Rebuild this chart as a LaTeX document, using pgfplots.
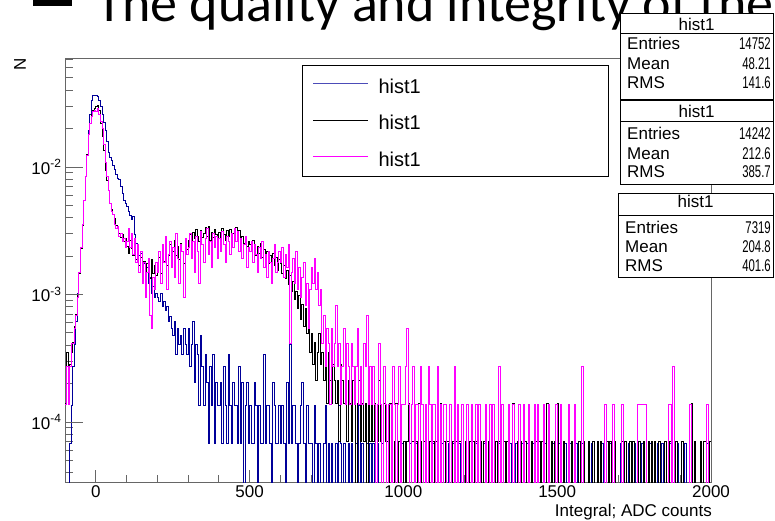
\documentclass[border=0pt]{standalone}
\usepackage{pgfplots}
\pgfplotsset{compat=1.18}
\usepackage{pgfplotstable}
\usepackage{graphicx}
\usepackage{fontspec}
\setmainfont{Liberation Sans}
\newfontfamily\titlefont{Carlito}
\definecolor{rootblue}{RGB}{0,0,153}
\definecolor{rootmag}{RGB}{255,0,255}
\colorlet{framegray}{black!60}

% bin low edge, counts: b = blue (N=14752), k = black (N=14242), m = magenta (N=7319)
\pgfplotstableread{
x b k m
-100 0 2 1
-95 0 5 2
-90 0 3 1
-85 1 4 2
-80 2 5 3
-75 4 6 3
-70 6 8 4
-65 9 10 5
-60 15 14 7
-55 22 21 11
-50 34 33 17
-45 52 50 26
-40 81 78 40
-35 125 121 62
-30 184 178 91
-25 288 256 132
-20 384 313 161
-15 487 370 183
-10 541 399 198
-5 541 413 205
0 541 427 198
5 531 434 212
10 494 399 190
15 438 313 168
20 384 249 146
25 333 192 110
30 288 135 80
35 236 111 62
40 192 94 48
45 177 74 38
50 167 66 33
55 152 60 31
60 140 56 26
65 130 50 24
70 121 47 25
75 117 43 21
80 103 40 22
85 91 42 19
90 81 37 20
95 77 39 17
100 72 34 19
105 66 30 24
110 61 38 17
115 57 33 22
120 60 29 15
125 44 35 20
130 37 27 13
135 35 31 18
140 30 24 11
145 31 28 16
150 25 21 9
155 26 26 13
160 22 16 7
165 24 25 11
170 18 22 14
175 20 19 5
180 15 27 4
185 17 21 10
190 14 24 8
195 15 20 13
200 14 23 11
205 13 28 16
210 15 21 9
215 12 30 18
220 13 26 13
225 11 33 21
230 12 24 8
235 9 29 15
240 10 35 19
245 8 27 12
250 7 31 17
255 9 38 10
260 5 29 22
265 8 34 14
270 6 27 9
275 7 36 18
280 5 31 16
285 8 25 7
290 6 37 20
295 5 32 15
300 8 38 17
305 4 42 22
310 6 35 14
315 9 44 19
320 3 39 11
325 6 46 21
330 5 41 16
335 2 37 9
340 7 45 23
345 4 40 18
350 2 43 13
355 5 48 20
360 3 41 24
365 1 49 15
370 4 38 19
375 2 44 12
380 5 40 22
385 1 46 17
390 3 42 21
395 2 39 14
400 2 44 20
405 3 40 16
410 1 47 23
415 4 42 18
420 2 38 13
425 1 45 21
430 5 41 19
435 2 46 15
440 1 39 22
445 3 43 17
450 2 47 24
455 2 48 19
460 1 42 23
465 4 45 16
470 1 38 20
475 3 41 14
480 0 36 18
485 2 40 21
490 3 34 12
495 1 37 17
500 2 35 16
505 1 31 19
510 1 38 13
515 3 33 18
520 2 29 15
525 0 34 11
530 2 30 17
535 1 36 14
540 1 28 19
545 5 32 12
550 1 27 15
555 2 31 10
560 2 25 16
565 1 29 13
570 0 26 9
575 3 30 14
580 2 24 18
585 1 28 11
590 1 22 13
595 2 27 16
600 1 25 13
605 2 21 17
610 1 24 10
615 0 19 15
620 3 22 12
625 1 17 18
630 6 20 3
635 1 15 11
640 2 18 14
645 2 13 9
650 1 15 16
655 0 11 8
660 1 14 12
665 2 9 7
670 3 12 10
675 1 8 13
680 0 11 6
685 2 7 9
690 1 9 4
695 1 5 8
700 1 7 12
705 0 4 9
710 2 6 14
715 1 3 8
720 0 5 11
725 1 7 6
730 0 4 8
735 0 5 3
740 1 3 5
745 2 4 2
750 0 2 4
755 1 5 3
760 0 3 1
765 1 2 4
770 0 4 2
775 0 3 3
780 1 2 6
785 0 3 2
790 2 1 3
795 1 4 1
800 0 3 2
805 1 2 4
810 0 4 1
815 0 1 3
820 1 3 2
825 0 2 1
830 1 1 3
835 0 3 2
840 0 2 1
845 1 0 2
850 0 2 4
855 2 3 1
860 0 1 2
865 1 2 1
870 0 1 3
875 0 2 2
880 1 0 5
885 0 3 1
890 1 1 2
895 0 2 1
900 1 1 2
905 0 2 1
910 0 0 0
915 1 1 1
920 0 3 3
925 0 1 1
930 1 0 0
935 0 2 2
940 0 1 1
945 0 1 0
950 1 0 1
955 0 2 1
960 1 1 0
965 0 0 2
970 0 1 1
975 0 2 0
980 1 0 1
985 0 1 2
990 0 1 0
995 1 0 1
1000 0 1 1
1005 1 0 2
1010 0 1 4
1015 0 2 1
1020 1 0 0
1025 0 1 1
1030 0 1 2
1035 0 0 0
1040 1 1 1
1045 0 0 1
1050 0 2 0
1055 1 1 2
1060 0 0 1
1065 0 1 0
1070 1 1 1
1075 0 0 0
1080 0 0 2
1085 0 1 1
1090 0 0 0
1095 1 1 1
1100 0 0 1
1105 0 1 0
1110 1 1 2
1115 0 0 0
1120 0 2 1
1125 1 0 0
1130 0 1 1
1135 0 0 1
1140 0 1 0
1145 1 1 0
1150 0 0 1
1155 0 0 0
1160 1 1 0
1165 0 0 2
1170 0 1 0
1175 0 0 1
1180 1 1 0
1185 0 1 0
1190 0 0 1
1195 0 0 0
1200 1 1 0
1205 0 0 1
1210 0 0 0
1215 0 1 0
1220 1 0 1
1225 0 1 0
1230 0 0 0
1235 1 1 1
1240 0 0 0
1245 0 0 1
1250 0 1 0
1255 0 0 0
1260 1 1 0
1265 0 0 1
1270 0 0 0
1275 1 1 0
1280 0 0 1
1285 0 1 0
1290 0 0 1
1295 1 0 0
1300 0 1 0
1305 0 0 0
1310 1 1 2
1315 0 0 0
1320 0 0 1
1325 0 1 0
1330 1 0 0
1335 0 1 0
1340 0 1 1
1345 1 0 0
1350 0 0 0
1355 0 2 1
1360 0 0 0
1365 1 0 0
1370 0 1 0
1375 0 0 1
1380 0 1 0
1385 1 0 0
1390 0 0 1
1395 0 1 0
1400 1 0 0
1405 0 1 1
1410 0 0 0
1415 0 1 0
1420 1 0 0
1425 0 0 1
1430 0 1 0
1435 0 0 1
1440 0 1 0
1445 1 0 0
1450 0 1 0
1455 0 0 1
1460 1 0 0
1465 0 2 0
1470 0 0 1
1475 0 0 0
1480 0 1 0
1485 1 0 0
1490 0 1 0
1495 0 0 1
1500 0 2 0
1505 1 0 0
1510 0 1 1
1515 0 0 0
1520 0 1 0
1525 1 0 0
1530 0 0 0
1535 0 1 1
1540 1 0 0
1545 0 1 0
1550 0 0 0
1555 0 1 1
1560 1 0 0
1565 0 0 0
1570 0 1 0
1575 0 0 0
1580 1 0 2
1585 0 1 0
1590 0 0 0
1595 0 0 0
1600 0 1 0
1605 0 0 0
1610 1 0 0
1615 0 1 0
1620 0 0 0
1625 0 0 0
1630 1 1 0
1635 0 0 0
1640 0 1 0
1645 1 0 0
1650 0 0 0
1655 0 0 1
1660 0 1 0
1665 0 0 0
1670 1 1 0
1675 0 0 0
1680 0 0 1
1685 1 1 0
1690 0 0 0
1695 0 0 0
1700 0 0 0
1705 1 0 0
1710 0 1 1
1715 0 0 0
1720 0 1 0
1725 0 0 0
1730 1 0 0
1735 0 1 0
1740 0 0 0
1745 0 1 0
1750 1 0 0
1755 0 0 0
1760 0 0 1
1765 0 1 1
1770 0 0 1
1775 1 0 1
1780 0 1 1
1785 0 0 1
1790 0 0 0
1795 0 1 0
1800 1 0 0
1805 0 1 0
1810 0 0 0
1815 0 1 0
1820 0 0 0
1825 1 0 0
1830 0 1 0
1835 0 0 0
1840 1 0 0
1845 0 0 0
1850 0 1 0
1855 0 0 0
1860 0 0 1
1865 1 1 1
1870 0 0 0
1875 0 0 2
1880 0 0 0
1885 0 1 0
1890 1 0 0
1895 0 0 0
1900 0 0 0
1905 0 1 0
1910 0 0 0
1915 1 0 0
1920 0 0 0
1925 0 0 0
1930 0 0 1
1935 1 2 0
1940 0 0 0
1945 0 1 0
1950 0 0 0
1955 0 0 0
1960 0 0 0
1965 1 1 0
1970 0 0 0
1975 0 1 0
1980 0 1 0
1985 1 0 1
1990 1 0 0
1995 0 1 0
2000 0 1 0
}\hist

\newcommand\statfont{\fontsize{17}{20}\selectfont}
\newcommand\legfont{\fontsize{20}{24}\selectfont}
\newcommand\val[1]{\scalebox{0.67}[1]{#1}}

\begin{document}
\begin{tikzpicture}
\begin{axis}[
  at={(0pt,0pt)}, anchor=south west,
  scale only axis, width=646pt, height=424pt,
  xmin=-100, xmax=2000,
  ymode=log, ymin=3.38e-5, ymax=7.16e-2,
  axis line style={draw=framegray, line width=0.9pt},
  tick style={draw=framegray, line width=0.9pt},
  xtick={0,500,1000,1500,2000},
  xticklabels={0,500,1000,1500,2000},
  minor xtick={-100,0,...,2000},
  ytick={1e-4,1e-3,1e-2},
  yticklabels={10\textsuperscript{-4},10\textsuperscript{-3},10\textsuperscript{-2}},
  minor ytick={4e-5,5e-5,6e-5,7e-5,8e-5,9e-5,2e-4,3e-4,4e-4,5e-4,6e-4,7e-4,8e-4,9e-4,2e-3,3e-3,4e-3,5e-3,6e-3,7e-3,8e-3,9e-3,2e-2,3e-2,4e-2,5e-2,6e-2,7e-2},
  xtick pos=bottom, ytick pos=left, tick align=inside,
  major tick length=12pt, minor tick length=7.5pt,
  tick label style={font=\fontsize{17}{20}\selectfont},
  /pgf/number format/assume math mode=true,
  clip=true,
]
\addplot[rootblue, line width=0.8pt, const plot mark left]
  table[x=x, y expr={max(\thisrow{b},0.001)/14752}] {\hist};
\addplot[black, line width=0.8pt, const plot mark left]
  table[x=x, y expr={max(\thisrow{k},0.001)/14242}] {\hist};
\addplot[rootmag, line width=0.8pt, const plot mark left]
  table[x=x, y expr={max(\thisrow{m},0.001)/7319}] {\hist};
% longer major y ticks as in ROOT
\pgfplotsinvokeforeach{1e-4,1e-3,1e-2}{
  \draw[framegray, line width=0.9pt] (axis cs:-100,#1) -- ++(18pt,0pt);
}
\end{axis}

% axis titles
\node[rotate=90, font=\statfont, inner sep=0pt] at (-45pt,418pt) {N};
\node[anchor=base east, font=\statfont, inner sep=0pt] at (647pt,-34pt) {Integral; ADC counts};

% legend
\draw[black, line width=0.8pt, fill=white] (237.3pt,306pt) rectangle (543.3pt,417pt);
\draw[rootblue!70, line width=0.8pt] (248.3pt,398.7pt) -- (303.3pt,398.7pt);
\draw[black, line width=0.8pt] (248.3pt,362pt) -- (303.3pt,362pt);
\draw[rootmag, line width=0.8pt] (248.3pt,325.3pt) -- (303.3pt,325.3pt);
\node[anchor=base west, font=\legfont, inner sep=0pt] at (313.3pt,388.7pt) {hist1};
\node[anchor=base west, font=\legfont, inner sep=0pt] at (313.3pt,352pt) {hist1};
\node[anchor=base west, font=\legfont, inner sep=0pt] at (313.3pt,316pt) {hist1};

% slide title overlapping the top of the picture (under the stat boxes)
\fill[black] (-32pt,476pt) rectangle (7pt,530pt);
\node[anchor=base west, font=\titlefont\fontsize{54}{60}\selectfont, inner sep=0pt]
  at (31pt,460pt) {The quality and integrity of the data};

% stat boxes
\begin{scope}[every node/.style={font=\statfont, inner sep=0pt}]
\draw[black, line width=0.8pt, fill=white] (555pt,383pt) rectangle (708pt,469pt);
\draw[black, line width=0.8pt] (555pt,448.7pt) -- (708pt,448.7pt);
\node[anchor=base] at (631.5pt,451pt) {hist1};
\node[anchor=base west] at (562pt,432.7pt) {Entries};
\node[anchor=base east] at (706pt,432.7pt) {\val{14752}};
\node[anchor=base west] at (562pt,412.7pt) {Mean};
\node[anchor=base east] at (706pt,412.7pt) {\val{48.21}};
\node[anchor=base west] at (562pt,393.3pt) {RMS};
\node[anchor=base east] at (706pt,393.3pt) {\val{141.6}};

\draw[black, line width=0.8pt, fill=white] (555pt,298pt) rectangle (708pt,382pt);
\draw[black, line width=0.8pt] (555pt,361pt) -- (708pt,361pt);
\node[anchor=base] at (631.5pt,364.3pt) {hist1};
\node[anchor=base west] at (562pt,342pt) {Entries};
\node[anchor=base east] at (706pt,342pt) {\val{14242}};
\node[anchor=base west] at (562pt,322.7pt) {Mean};
\node[anchor=base east] at (706pt,322.7pt) {\val{212.6}};
\node[anchor=base west] at (562pt,304.3pt) {RMS};
\node[anchor=base east] at (706pt,304.3pt) {\val{385.7}};

\draw[black, line width=0.8pt, fill=white] (553pt,205pt) rectangle (708pt,289pt);
\draw[black, line width=0.8pt] (553pt,267pt) -- (708pt,267pt);
\node[anchor=base] at (630.5pt,274.3pt) {hist1};
\node[anchor=base west] at (560pt,248.3pt) {Entries};
\node[anchor=base east] at (706pt,248.3pt) {\val{7319}};
\node[anchor=base west] at (560pt,229.3pt) {Mean};
\node[anchor=base east] at (706pt,229.3pt) {\val{204.8}};
\node[anchor=base west] at (560pt,211pt) {RMS};
\node[anchor=base east] at (706pt,211pt) {\val{401.6}};
\end{scope}

\pgfresetboundingbox
\useasboundingbox (-65pt,-38pt) rectangle (710pt,482pt);
\end{tikzpicture}
\end{document}
